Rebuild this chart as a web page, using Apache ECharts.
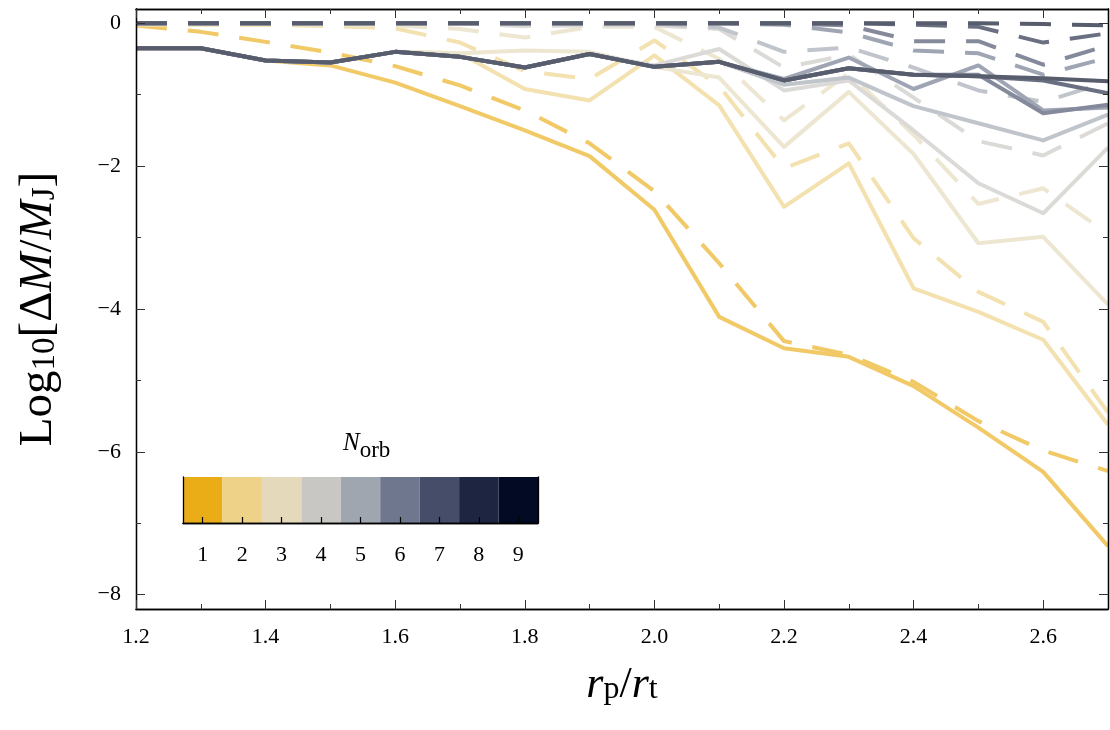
<!DOCTYPE html>
<html><head><meta charset="utf-8">
<script src="https://cdn.jsdelivr.net/npm/echarts@6/dist/echarts.min.js"></script>
<style>html,body{margin:0;padding:0;background:#fff}#c{width:1110px;height:730px}</style>
</head><body><div id="c"></div>
<script>
// ---------- data ----------
const rpRt = [1.2,1.3,1.4,1.5,1.6,1.7,1.8,1.9,2.0,2.1,2.2,2.3,2.4,2.5,2.6,2.7];
const nOrb = [1,2,3,4,5,6,7,8,9];
const norbColors = ['#EAAD17','#EDD287','#E4D9BA','#C8C7C3','#A0A6B0','#6F778E','#454D68','#1E2541','#020A24'];

const xMajorTicks = [1.2,1.4,1.6,1.8,2.0,2.2,2.4,2.6];
const xMinorTicks = [1.3,1.5,1.7,1.9,2.1,2.3,2.5];
const yMajorTicks = [-8,-6,-4,-2,0];
const yMinorTicks = [-7,-5,-3,-1];

// solid lines, one per N_orb
const solidN1 = [-0.35,-0.35,-0.52,-0.59,-0.83,-1.16,-1.50,-1.86,-2.61,-4.11,-4.55,-4.67,-5.08,-5.66,-6.28,-7.32];
const solidN2 = [-0.35,-0.35,-0.52,-0.55,-0.40,-0.42,-0.92,-1.08,-0.45,-1.15,-2.57,-1.96,-3.71,-4.04,-4.43,-5.62];
const solidN3 = [-0.35,-0.35,-0.52,-0.55,-0.40,-0.42,-0.38,-0.40,-0.61,-0.76,-1.73,-0.96,-1.83,-3.08,-2.99,-3.94];
const solidN4 = [-0.35,-0.35,-0.52,-0.55,-0.40,-0.47,-0.62,-0.43,-0.59,-0.36,-0.94,-0.80,-1.50,-2.24,-2.66,-1.74];
const solidN5 = [-0.35,-0.35,-0.52,-0.55,-0.40,-0.47,-0.62,-0.43,-0.61,-0.54,-0.86,-0.76,-1.16,-1.40,-1.64,-1.28];
const solidN6 = [-0.35,-0.35,-0.52,-0.55,-0.40,-0.47,-0.62,-0.43,-0.61,-0.54,-0.78,-0.48,-0.92,-0.59,-1.22,-1.18];
const solidN7 = [-0.35,-0.35,-0.52,-0.55,-0.40,-0.47,-0.62,-0.43,-0.61,-0.54,-0.80,-0.63,-0.72,-0.72,-1.26,-1.14];
const solidN8 = [-0.35,-0.35,-0.52,-0.55,-0.40,-0.47,-0.62,-0.43,-0.61,-0.54,-0.80,-0.63,-0.72,-0.74,-0.80,-0.98];
const solidN9 = [-0.35,-0.35,-0.52,-0.55,-0.40,-0.47,-0.62,-0.43,-0.61,-0.54,-0.80,-0.63,-0.72,-0.74,-0.77,-0.81];

// dashed lines, one per N_orb
const dashedN1 = [-0.03,-0.12,-0.26,-0.41,-0.60,-0.87,-1.22,-1.68,-2.35,-3.36,-4.45,-4.64,-5.02,-5.57,-5.98,-6.27];
const dashedN2 = [-0.02,-0.02,-0.02,-0.04,-0.07,-0.27,-0.67,-0.78,-0.24,-0.88,-2.03,-1.68,-3.01,-3.76,-4.18,-5.45];
const dashedN3 = [-0.01,-0.01,-0.01,-0.02,-0.03,-0.08,-0.20,-0.05,-0.05,-0.50,-1.36,-0.70,-1.56,-2.53,-2.31,-2.95];
const dashedN4 = [0,0,0,0,0,0,-0.04,-0.03,-0.03,-0.08,-0.62,-0.44,-1.04,-1.65,-1.85,-1.40];
const dashedN5 = [0,0,0,0,0,0,0,0,0,-0.06,-0.40,-0.34,-0.62,-0.94,-1.10,-0.82];
const dashedN6 = [0,0,0,0,0,0,0,0,0,0,-0.02,-0.13,-0.38,-0.42,-0.72,-0.48];
const dashedN7 = [0,0,0,0,0,0,0,0,0,0,0,-0.03,-0.25,-0.25,-0.58,-0.31];
const dashedN8 = [0,0,0,0,0,0,0,0,0,0,0,0,-0.02,-0.05,-0.27,-0.14];
const dashedN9 = [0,0,0,0,0,0,0,0,0,0,0,0,0,0,-0.01,-0.03];

const solidSets = [solidN1,solidN2,solidN3,solidN4,solidN5,solidN6,solidN7,solidN8,solidN9];
const dashedSets = [dashedN1,dashedN2,dashedN3,dashedN4,dashedN5,dashedN6,dashedN7,dashedN8,dashedN9];

// ---------- chart ----------
const FONT = 'Liberation Serif';
const chart = echarts.init(document.getElementById('c'), null, {renderer:'canvas'});
const minus = v => (v < 0 ? '\u2212' : '') + Math.abs(v);
// lines are drawn as the legend colour washed towards white (opaque)
const LINE_STRENGTH = 0.66;
function wash(hex){
  const r = parseInt(hex.slice(1,3),16), g = parseInt(hex.slice(3,5),16), b = parseInt(hex.slice(5,7),16);
  const f = c => Math.round(255 - LINE_STRENGTH*(255 - c));
  return 'rgb(' + f(r) + ',' + f(g) + ',' + f(b) + ')';
}

function frameX(position, ticks, len, withLabel){
  return {
    type:'value', gridIndex:0, position, min:1.2, max:2.7, z:10,
    axisLine:{show:true, onZero:false, lineStyle:{color:'#000', width:1.3}},
    axisTick:{show:true, inside:true, length:len, customValues:ticks, lineStyle:{color:'#333', width:1}},
    axisLabel:{show:withLabel, customValues:ticks, margin:17, fontFamily:FONT, fontSize:22, color:'#000',
      formatter:v=>Number(v).toFixed(1)},
    splitLine:{show:false}
  };
}
function frameY(position, ticks, len, withLabel){
  return {
    type:'value', gridIndex:0, position, min:-8.2, max:0.2, z:10,
    axisLine:{show:true, onZero:false, lineStyle:{color:'#000', width:1.3}},
    axisTick:{show:true, inside:true, length:len, customValues:ticks, lineStyle:{color:'#333', width:1}},
    axisLabel:{show:withLabel, customValues:ticks, margin:15, fontFamily:FONT, fontSize:22, color:'#000',
      formatter:minus},
    splitLine:{show:false}
  };
}

const xAxes = [
  Object.assign(frameX('bottom', xMajorTicks, 9, true), {
    name:'{i|r}{s|p}{t|/}{i|r}{s|t}', nameLocation:'middle', nameGap:54,
    nameTextStyle:{color:'#000', rich:{
      i:{fontFamily:FONT, fontStyle:'italic', fontSize:44, lineHeight:40, verticalAlign:'top', color:'#000'},
      t:{fontFamily:FONT, fontSize:44, lineHeight:40, verticalAlign:'top', color:'#000'},
      s:{fontFamily:FONT, fontSize:32, lineHeight:40, padding:[11,0,0,0], verticalAlign:'top', color:'#000'}
    }}
  }),
  frameX('bottom', xMinorTicks, 5, false),
  frameX('top', xMajorTicks, 9, false),
  frameX('top', xMinorTicks, 5, false),
  // colorbar axes
  {type:'category', gridIndex:1, position:'bottom', data:nOrb.map(String), z:10,
   boundaryGap:true,
   axisLine:{show:true, lineStyle:{color:'#000', width:1.3}},
   axisTick:{show:true, inside:true, alignWithLabel:true, length:6, lineStyle:{color:'#000', width:1.2}},
   axisLabel:{show:true, margin:21, fontFamily:FONT, fontSize:22, color:'#000'},
   splitLine:{show:false}},
  {type:'category', gridIndex:1, position:'top', data:nOrb.map(String), z:10,
   axisLine:{show:true, lineStyle:{color:'#000', width:1.3}},
   axisTick:{show:false}, axisLabel:{show:false}, splitLine:{show:false}}
];
const yAxes = [
  Object.assign(frameY('left', yMajorTicks, 9, true), {
    name:'{t|Log}{s|10}{t|[\u0394}{i|M}{t|/}{i|M}{s|J}{t|]}', nameLocation:'middle', nameGap:73, nameRotate:90,
    nameTextStyle:{color:'#000', rich:{
      i:{fontFamily:FONT, fontStyle:'italic', fontSize:47, lineHeight:48, verticalAlign:'top', color:'#000'},
      t:{fontFamily:FONT, fontSize:47, lineHeight:48, verticalAlign:'top', color:'#000'},
      s:{fontFamily:FONT, fontSize:33, lineHeight:48, padding:[14,0,0,0], verticalAlign:'top', color:'#000'}
    }}
  }),
  frameY('left', yMinorTicks, 5, false),
  frameY('right', yMajorTicks, 9, false),
  frameY('right', yMinorTicks, 5, false),
  {type:'value', gridIndex:1, position:'left', min:0, max:1, z:10,
   axisLine:{show:true, onZero:false, lineStyle:{color:'#000', width:1.3}},
   axisTick:{show:false}, axisLabel:{show:false}, splitLine:{show:false}},
  {type:'value', gridIndex:1, position:'right', min:0, max:1, z:10,
   axisLine:{show:true, onZero:false, lineStyle:{color:'#000', width:1.3}},
   axisTick:{show:false}, axisLabel:{show:false}, splitLine:{show:false}}
];

const series = [];
nOrb.forEach((n, k) => {
  const col = wash(norbColors[k]);
  series.push({
    type:'line', name:'solid N'+n, xAxisIndex:0, yAxisIndex:0, showSymbol:false, symbol:'none',
    data: rpRt.map((x,i)=>[x, solidSets[k][i]]),
    lineStyle:{color:col, width:4, cap:'butt', join:'round'},
    z: 2 + k*0.1, silent:true
  });
  series.push({
    type:'line', name:'dashed N'+n, xAxisIndex:0, yAxisIndex:0, showSymbol:false, symbol:'none',
    data: rpRt.map((x,i)=>[x, dashedSets[k][i]]),
    lineStyle:{color:col, width:4, type:[31,21], cap:'butt', join:'round'},
    z: 2 + k*0.1 + 0.05, silent:true
  });
});
// colorbar
series.push({
  type:'bar', xAxisIndex:4, yAxisIndex:4, barWidth:'100%', barCategoryGap:'0%', silent:true,
  data: nOrb.map((n,k)=>({value:1, itemStyle:{color:norbColors[k]}})), z:3
});

chart.setOption({
  animation:false,
  backgroundColor:'#fff',
  title:{text:'{n|N}{s|orb}', left:338, top:426,
    textStyle:{fontWeight:'normal', rich:{
      n:{fontFamily:FONT, fontStyle:'italic', fontWeight:'normal', fontSize:25, lineHeight:26, verticalAlign:'top', color:'#000'},
      s:{fontFamily:FONT, fontWeight:'normal', fontSize:23, lineHeight:26, padding:[8,0,0,0], verticalAlign:'top', color:'#000'}
    }}},
  grid:[
    {left:136, top:9, width:972, height:600, containLabel:false, outerBoundsMode:'none'},
    {left:183, top:477, width:355, height:46, containLabel:false, outerBoundsMode:'none'}
  ],
  xAxis:xAxes,
  yAxis:yAxes,
  series
});
</script>
</body></html>
